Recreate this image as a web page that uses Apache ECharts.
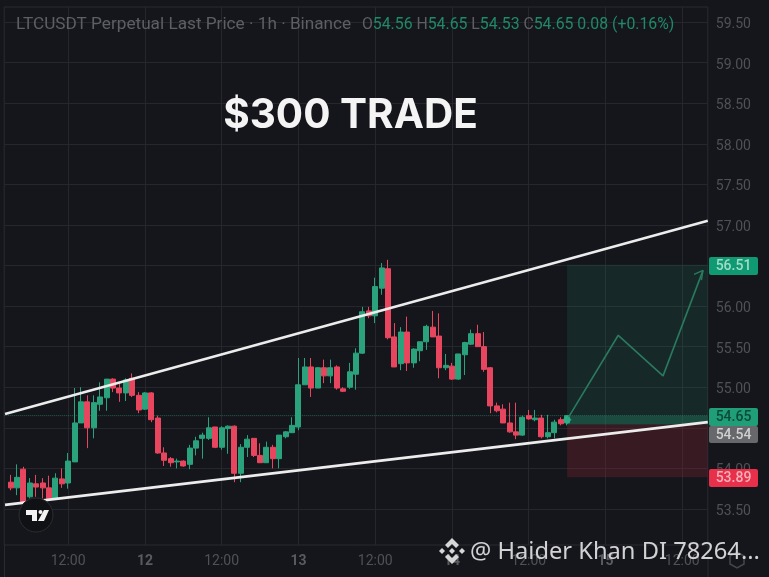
<!DOCTYPE html>
<html><head><meta charset="utf-8">
<style>html,body{margin:0;padding:0;background:#15161b}#c{width:769px;height:577px;filter:blur(.45px)}</style>
<script src="https://cdn.jsdelivr.net/npm/echarts@6/dist/echarts.min.js"></script>
</head><body><div id="c"></div>
<script>
// [open, close, low, high] per hour
const candles = [
null,
[53.83,53.76,53.73,53.92],[53.76,53.89,53.67,54.05],[53.99,53.59,53.57,54.02],[53.65,53.82,53.63,53.88],
[53.81,53.77,53.65,53.92],[53.82,53.76,53.63,53.88],[53.76,53.63,53.62,53.91],[53.63,53.88,53.61,53.94],
[53.87,53.81,53.76,54.00],[53.82,54.09,53.75,54.19],[54.08,54.56,54.08,54.99],[54.56,54.82,54.56,55.00],
[54.82,54.50,54.25,54.90],[54.50,54.81,54.37,54.90],[54.79,54.88,54.71,55.06],[54.87,55.10,54.71,55.10],
[55.10,54.99,54.94,55.11],[54.99,54.93,54.82,55.05],[54.93,55.09,54.83,55.11],[55.11,54.90,54.88,55.17],
[54.90,54.72,54.68,54.94],[54.73,54.93,54.72,54.94],[54.93,54.60,54.57,54.94],[54.62,54.19,54.18,54.65],
[54.19,54.10,54.03,54.26],[54.12,54.07,54.02,54.14],[54.08,54.09,54.00,54.12],[54.09,54.03,54.02,54.10],
[54.05,54.25,53.99,54.29],[54.25,54.34,54.16,54.39],[54.37,54.41,54.12,54.44],[54.37,54.50,54.35,54.63],
[54.51,54.26,54.25,54.51],[54.26,54.50,54.23,54.52],[54.49,54.52,54.18,54.53],[54.52,53.94,53.83,54.53],
[53.94,54.26,53.83,54.30],[54.26,54.36,54.14,54.41],[54.37,54.16,54.14,54.37],[54.16,54.07,54.07,54.31],
[54.07,54.26,54.07,54.33],[54.26,54.12,54.00,54.29],[54.12,54.41,54.00,54.41],[54.39,54.45,54.37,54.46],
[54.44,54.53,54.44,54.63],[54.51,55.03,54.47,55.36],[55.03,55.25,55.03,55.36],[55.25,54.99,54.88,55.36],
[54.99,55.24,54.99,55.25],[55.24,55.14,55.05,55.34],[55.14,55.24,55.05,55.34],[55.25,54.99,54.97,55.27],
[54.98,54.95,54.94,55.00],[55.00,55.19,54.98,55.30],[55.16,55.42,54.97,55.48],[55.42,55.93,55.41,55.99],
[55.94,55.88,55.85,55.99],[55.88,56.24,55.79,56.35],[56.22,56.47,56.14,56.53],[56.46,55.61,55.59,56.57],
[55.62,55.25,55.25,55.79],[55.29,55.68,55.21,55.74],[55.68,55.30,55.20,55.87],[55.30,55.47,55.24,55.48],
[55.45,55.56,55.32,55.56],[55.56,55.75,55.46,55.77],[55.74,55.62,55.62,55.94],[55.63,55.24,55.11,55.91],
[55.24,55.27,55.21,55.41],[55.26,55.10,55.09,55.30],[55.10,55.41,55.09,55.41],[55.40,55.55,55.15,55.56],
[55.53,55.66,55.52,55.71],[55.66,55.50,55.50,55.77],[55.50,55.22,55.19,55.68],[55.24,54.77,54.68,55.25],
[54.77,54.71,54.69,54.81],[54.73,54.56,54.56,54.79],[54.56,54.45,54.44,54.81],[54.45,54.41,54.36,54.81],
[54.41,54.63,54.40,54.65],[54.65,54.61,54.60,54.72],[54.60,54.62,54.58,54.72],[54.62,54.39,54.37,54.66],
[54.39,54.44,54.37,54.66],[54.44,54.57,54.37,54.60],[54.60,54.55,54.53,54.63],[54.56,54.65,54.53,54.65]
];
const hourCount = 111;
const tickHours = [10,22,34,46,58,70,82,94,106];
const tickLabels = ['12:00','12','12:00','13','12:00','14','12:00','15','12:00'];
const priceTicks = [53.5,54,54.5,55,55.5,56,56.5,57,57.5,58,58.5,59,59.5];
const upperTrend = [[0.13,54.67],[110,57.05]];
const lowerTrend = [[0.13,53.55],[110,54.57]];
const lastPrice = [[0,54.65],[110,54.65]];
const projection = [[88,54.60],[96,55.64],[103,55.14],[109.25,56.44]];
const arrowHead = [[107.85,56.39],[109.25,56.44],[109.0,56.32]];
const entryPoint = [[88,54.60]];
const target = 56.51, last = 54.65, entry = 54.54, stop = 53.89;
const boxStart = 88, boxEnd = 110;
const headerName = 'LTCUSDT Perpetual Last Price · 1h · Binance';
const ohlc = ['54.56','54.65','54.53','54.65'];
const change = '0.08 (+0.16%)';
const titleText = '$300 TRADE';
const watermark = '@ Haider Khan DI 78264...';
const tagTexts = ['56.51','54.65','54.54','53.89'];

const GREEN='#2aa27b', RED='#e8465e', BG='#15161b', LINE='#26272c';
const categories = Array.from({length:hourCount},(_,i)=>{const k=tickHours.indexOf(i);return k>=0?tickLabels[k]:'';});
const isTick = i => tickHours.indexOf(i)>=0;
const chart = echarts.init(document.getElementById('c'),null,{renderer:'canvas'});
function overlay(data,color,width,z,extra){return Object.assign({type:'line',xAxisIndex:1,yAxisIndex:0,data:data,showSymbol:false,symbol:'none',silent:true,z:z,
  lineStyle:{color:color,width:width},animation:false},extra||{});}
function tag(y,h,bg,fg,t){return [
  {type:'rect',z:100,shape:{x:709,y:y,width:49,height:h,r:2},style:{fill:bg}},
  {type:'text',z:101,style:{x:733.5,y:y+h/2+.5,text:t,fill:fg,font:'500 14px Roboto',align:'center',verticalAlign:'middle'}}];}
function poly(points,fill,z){return {type:'polygon',z:z,shape:{points:points},style:{fill:fill}};}
const logoX=439, logoY=538;
const L=(a)=>a.map(p=>[p[0]+logoX,p[1]+logoY]);
chart.setOption({
 animation:false,backgroundColor:BG,
 grid:{left:4.2,top:7,width:703.6,height:538,show:true,backgroundColor:BG,borderColor:'#2a2b30',borderWidth:1},
 xAxis:[{type:'category',data:categories,boundaryGap:false,
   axisLine:{show:false},axisTick:{show:false},
   splitLine:{show:true,interval:(i)=>isTick(i),lineStyle:{color:LINE,width:1}},
   axisLabel:{interval:(i)=>isTick(i),margin:9,color:'#505156',fontFamily:'Roboto',fontSize:14,
     formatter:(v)=>v.indexOf(':')>=0?v:'{b|'+v+'}',rich:{b:{fontWeight:'bold',color:'#5a5b60',fontFamily:'Roboto',fontSize:14}}}},
  {type:'value',min:0,max:110,show:false,splitLine:{show:false}}],
 yAxis:{type:'value',position:'right',min:53.056,max:59.685,scale:true,
   axisLine:{show:false},
   axisTick:{show:false,customValues:priceTicks},
   splitLine:{show:true,lineStyle:{color:LINE,width:1}},
   axisLabel:{customValues:priceTicks,margin:8,color:'#505156',fontFamily:'Roboto',fontSize:14,
     formatter:(v)=>'{v|'+v.toFixed(2)+'}',
     rich:{v:{color:'#505156',fontFamily:'Roboto',fontSize:14,padding:[5,0,0,0]}}}},
 series:[
  overlay(lastPrice,'rgba(42,162,123,.55)',1,1,{lineStyle:{color:'rgba(42,162,123,.55)',width:1,type:'dotted'},
    markArea:{silent:true,z:1,data:[
     [{coord:[boxStart,target],itemStyle:{color:'rgba(30,135,105,.17)'}},{coord:[boxEnd,last]}],
     [{coord:[boxStart,last],itemStyle:{color:'rgba(38,165,125,.36)'}},{coord:[boxEnd,entry]}],
     [{coord:[boxStart,entry],itemStyle:{color:'rgba(160,40,55,.26)'}},{coord:[boxEnd,stop]}]]}}),
  {type:'candlestick',data:candles.map(c=>c||'-'),barWidth:5.5,xAxisIndex:0,yAxisIndex:0,z:3,silent:true,
   itemStyle:{color:GREEN,color0:RED,borderColor:GREEN,borderColor0:RED,borderWidth:1}},
  overlay(upperTrend,'#ececec',2.6,5),
  overlay(lowerTrend,'#ececec',2.6,5),
  overlay(projection,'#2a7a5e',1.6,6),
  overlay(arrowHead,'#2a7a5e',1.4,6),
  {type:'scatter',xAxisIndex:1,yAxisIndex:0,data:entryPoint,symbol:'diamond',symbolSize:9,silent:true,z:7,itemStyle:{color:'#2fb08a'}}
 ],
 graphic:{elements:[
  {type:'line',z:2,shape:{x1:4.5,y1:545,x2:4.5,y2:577},style:{stroke:'#2a2b30',lineWidth:1}},
  {type:'line',z:2,shape:{x1:708,y1:545,x2:708,y2:577},style:{stroke:'#2a2b30',lineWidth:1}},
  {type:'text',z:100,style:{x:16,y:25,verticalAlign:'middle',text:headerName,fill:'#5e5f64',font:'17.2px Roboto'}},
  {type:'text',z:100,style:{x:362,y:25,verticalAlign:'middle',font:'15.8px Roboto',
    text:['O','H','L','C'].map((l,i)=>'{l|'+l+'}{v|'+ohlc[i]+'} ').join('')+'{v|'+change+'}',
    rich:{l:{fill:'#5e5f64',font:'15.8px Roboto'},v:{fill:'#1f8a67',font:'15.8px Roboto'}}}},
  {type:'text',z:100,style:{x:350.5,y:116,text:titleText,fill:'#f4f4f4',font:'bold 40.5px Inter',align:'center',verticalAlign:'middle'}},
  ...tag(257,18,'#0f9a74','#a3dcc8',tagTexts[0]),
  ...tag(408,18,'#1f9e78','#0d4a39',tagTexts[1]),
  ...tag(426,17,'#67686c','#cfcfd0',tagTexts[2]),
  ...tag(469,18,'#e8304a','#f6b0ba',tagTexts[3]),
  {type:'circle',z:100,shape:{cx:36,cy:515,r:17},style:{fill:'#101115',stroke:'#2c2d32',lineWidth:1}},
  poly([[26,510],[37,510],[37,521],[32,521],[32,515],[26,515]],'#f2f2f2',101),
  poly([[44,510],[49,510],[44,521],[38,521]],'#f2f2f2',101),
  {type:'circle',z:101,shape:{cx:40.5,cy:512,r:2},style:{fill:'#f2f2f2'}},
  poly(L([[13,0],[20,7],[17,10],[13,6],[9,10],[6,7]]),'#d6d6d6',100),
  poly(L([[13,26],[20,19],[17,16],[13,20],[9,16],[6,19]]),'#d6d6d6',100),
  poly(L([[0,13],[3,10],[6,13],[3,16]]),'#d6d6d6',100),
  poly(L([[26,13],[23,10],[20,13],[23,16]]),'#d6d6d6',100),
  poly(L([[13,10],[16,13],[13,16],[10,13]]),'#d6d6d6',100),
  {type:'text',z:100,style:{x:470,y:552,text:watermark,fill:'#d2d2d4',font:'23.7px "Noto Sans"',verticalAlign:'middle'}},
  {type:'polygon',z:50,shape:{points:[[737,552],[744,556],[744,564],[737,568],[730,564],[730,556]]},style:{fill:'none',stroke:'#45464b',lineWidth:1.5}}
 ]}
});
</script></body></html>
